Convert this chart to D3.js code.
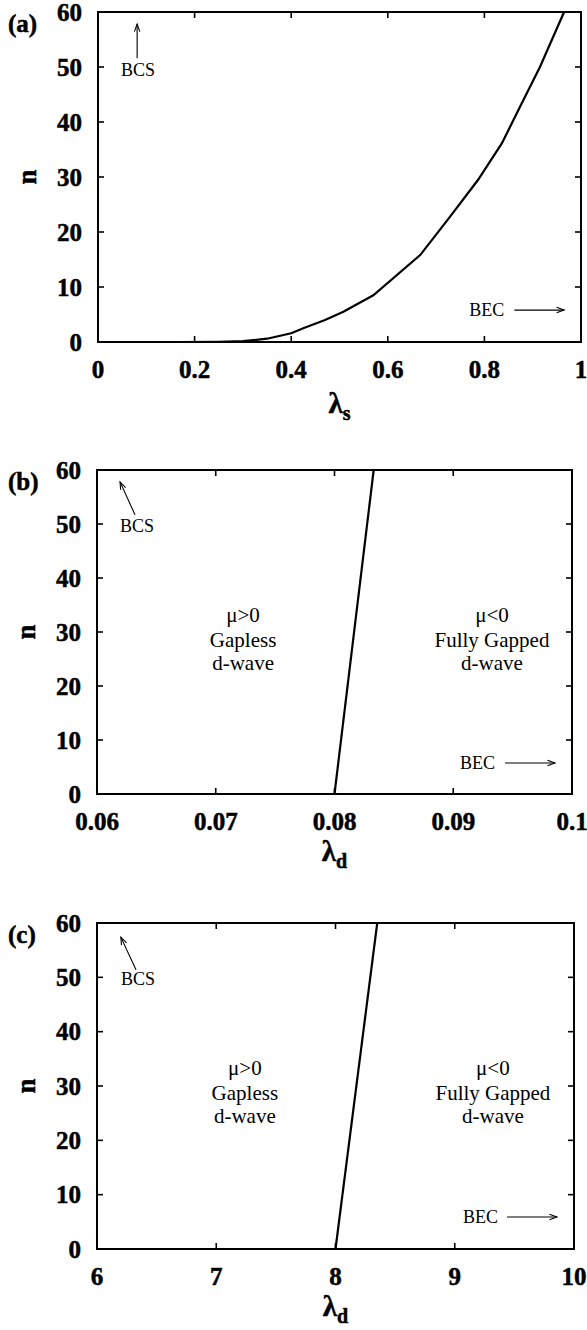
<!DOCTYPE html>
<html>
<head>
<meta charset="utf-8">
<script src="https://cdn.jsdelivr.net/npm/d3@7"></script>
<style>
  html, body { margin: 0; padding: 0; background: #fff; }
  svg { display: block; }
  .bold { font-family: "Liberation Serif", serif; font-weight: bold; stroke: #000; stroke-width: 0.5px; fill: #000; }
  .plain { font-family: "Liberation Serif", serif; fill: #000; }
</style>
</head>
<body>
<svg id="chart" width="587" height="1330"></svg>
<script>
// ---- data ----
// (a) s-wave crossover boundary n(lambda_s)
const lambdaS = [0.165, 0.25, 0.30, 0.35, 0.40, 0.425, 0.47, 0.508, 0.57, 0.667, 0.729, 0.787, 0.836, 0.874, 0.915, 0.965];
const nS      = [0,     0.05, 0.15, 0.6,  1.6,  2.5,   4.0,  5.5,   8.5,  15.8,  22.8,  29.5,  36.1,  42.8,  50.0,  60];
// (b) d-wave boundary, first coupling scale
const lambdaDb = [0.0800, 0.0833];
const nDb      = [0, 60];
// (c) d-wave boundary, second coupling scale
const lambdaDc = [8.00, 8.35];
const nDc      = [0, 60];

const yTicks = [0, 10, 20, 30, 40, 50, 60];
const xTicksA = [0, 0.2, 0.4, 0.6, 0.8, 1];
const xTickLabelsA = ["0", "0.2", "0.4", "0.6", "0.8", "1"];
const xTicksB = [0.06, 0.07, 0.08, 0.09, 0.1];
const xTickLabelsB = ["0.06", "0.07", "0.08", "0.09", "0.1"];
const xTicksC = [6, 7, 8, 9, 10];
const xTickLabelsC = ["6", "7", "8", "9", "10"];

const svg = d3.select("#chart");

function arrow(g, x1, y1, x2, y2) {
  g.append("line").attr("x1", x1).attr("y1", y1).attr("x2", x2).attr("y2", y2)
    .attr("stroke", "#000").attr("stroke-width", 1.1);
  const a = Math.atan2(y2 - y1, x2 - x1), L = 8, w = 0.35;
  const p = [[x2 - L * Math.cos(a - w), y2 - L * Math.sin(a - w)], [x2, y2],
             [x2 - L * Math.cos(a + w), y2 - L * Math.sin(a + w)]];
  g.append("path").attr("d", d3.line()(p)).attr("fill", "none")
    .attr("stroke", "#000").attr("stroke-width", 1.1);
}

function panel(cfg) {
  const { box, xDomain, xTicks, xLabels, xs, ns, tag, sub, xlabOff } = cfg;
  const g = svg.append("g");
  const x = d3.scaleLinear().domain(xDomain).range([box.l, box.r]);
  const y = d3.scaleLinear().domain([0, 60]).range([box.b, box.t]);
  const TL = 6;

  // inward ticks on all four sides
  xTicks.forEach(v => {
    g.append("line").attr("x1", x(v)).attr("x2", x(v)).attr("y1", box.b).attr("y2", box.b - TL)
      .attr("stroke", "#000").attr("stroke-width", 1.6);
    g.append("line").attr("x1", x(v)).attr("x2", x(v)).attr("y1", box.t).attr("y2", box.t + TL)
      .attr("stroke", "#000").attr("stroke-width", 1.6);
  });
  yTicks.forEach(v => {
    g.append("line").attr("x1", box.l).attr("x2", box.l + TL).attr("y1", y(v)).attr("y2", y(v))
      .attr("stroke", "#000").attr("stroke-width", 1.6);
    g.append("line").attr("x1", box.r).attr("x2", box.r - TL).attr("y1", y(v)).attr("y2", y(v))
      .attr("stroke", "#000").attr("stroke-width", 1.6);
  });

  // tick labels
  g.selectAll(".xt").data(xTicks).enter().append("text").attr("class", "bold")
    .attr("x", d => x(d)).attr("y", box.b + 36)
    .attr("text-anchor", "middle").attr("font-size", 25)
    .text((d, i) => xLabels[i]);
  g.selectAll(".yt").data(yTicks).enter().append("text").attr("class", "bold")
    .attr("x", box.l - 16).attr("y", d => y(d)).attr("dy", "0.34em")
    .attr("text-anchor", "end").attr("font-size", 25)
    .text(d => d);

  // frame
  g.append("rect").attr("x", box.l).attr("y", box.t)
    .attr("width", box.r - box.l).attr("height", box.b - box.t)
    .attr("fill", "none").attr("stroke", "#000").attr("stroke-width", 2);

  // boundary line
  const pts = xs.map((v, i) => [v, ns[i]]);
  g.append("path")
    .attr("d", d3.line().x(d => x(d[0])).y(d => y(d[1])).curve(d3.curveLinear)(pts))
    .attr("fill", "none").attr("stroke", "#000").attr("stroke-width", 2.2);

  // axis titles
  g.append("text").attr("class", "bold")
    .attr("transform", `translate(${box.l - 70},${(box.t + box.b) / 2}) rotate(-90)`)
    .attr("text-anchor", "middle").attr("dy", "0.3em").attr("font-size", 27).text("n");
  const xl = g.append("text").attr("class", "bold").attr("x", (box.l + box.r) / 2).attr("y", box.b + xlabOff)
    .attr("text-anchor", "middle");
  xl.append("tspan").attr("font-size", 29).text("λ");
  xl.append("tspan").attr("font-size", 20).attr("dy", 7).text(sub);

  // panel tag
  g.append("text").attr("class", "bold").attr("x", 8).attr("y", box.t + 20)
    .attr("font-size", 25).text(tag);

  return { g, x, y };
}

function note(g, px, py, txt, size, anchor) {
  g.append("text").attr("class", "plain").attr("x", px).attr("y", py)
    .attr("text-anchor", anchor || "middle").attr("font-size", size).text(txt);
}

// (a)
const A = panel({ box: { l: 98, r: 581, t: 12, b: 342 }, xDomain: [0, 1],
  xTicks: xTicksA, xLabels: xTickLabelsA, xs: lambdaS, ns: nS, tag: "(a)", sub: "s", xlabOff: 71 });
arrow(A.g, A.x(0.081), A.y(51.6), A.x(0.081), A.y(57.8));
note(A.g, A.x(0.083), A.y(48.4), "BCS", 18);
note(A.g, A.x(0.841), A.y(5.8) + 6, "BEC", 18, "end");
arrow(A.g, A.x(0.862), A.y(5.8), A.x(0.965), A.y(5.8));

// (b)
const B = panel({ box: { l: 97, r: 572, t: 470, b: 794 }, xDomain: [0.06, 0.1],
  xTicks: xTicksB, xLabels: xTickLabelsB, xs: lambdaDb, ns: nDb, tag: "(b)", sub: "d", xlabOff: 67 });
arrow(B.g, B.x(0.0632), B.y(51.7), B.x(0.06194), B.y(57.8));
note(B.g, B.x(0.06337), B.y(48.5), "BCS", 18);
note(B.g, B.x(0.09352), B.y(5.74) + 6, "BEC", 18, "end");
arrow(B.g, B.x(0.09436), B.y(5.74), B.x(0.09857), B.y(5.74));
[["μ>0", "Gapless", "d-wave", 0.0723], ["μ<0", "Fully Gapped", "d-wave", 0.09326]].forEach(r => {
  note(B.g, B.x(r[3]), B.y(27.3) - 25, r[0], 21);
  note(B.g, B.x(r[3]), B.y(27.3), r[1], 21);
  note(B.g, B.x(r[3]), B.y(27.3) + 23, r[2], 21);
});

// (c)
const C = panel({ box: { l: 97, r: 574, t: 923, b: 1249 }, xDomain: [6, 10],
  xTicks: xTicksC, xLabels: xTickLabelsC, xs: lambdaDc, ns: nDc, tag: "(c)", sub: "d", xlabOff: 67 });
arrow(C.g, C.x(6.327), C.y(51.4), C.x(6.20), C.y(57.4));
note(C.g, C.x(6.344), C.y(48.6), "BCS", 18);
note(C.g, C.x(9.363), C.y(5.9) + 6, "BEC", 18, "end");
arrow(C.g, C.x(9.438), C.y(5.9), C.x(9.857), C.y(5.9));
[["μ>0", "Gapless", "d-wave", 7.24], ["μ<0", "Fully Gapped", "d-wave", 9.32]].forEach(r => {
  note(C.g, C.x(r[3]), C.y(27.4) - 25, r[0], 21);
  note(C.g, C.x(r[3]), C.y(27.4), r[1], 21);
  note(C.g, C.x(r[3]), C.y(27.4) + 23, r[2], 21);
});
</script>
</body>
</html>
